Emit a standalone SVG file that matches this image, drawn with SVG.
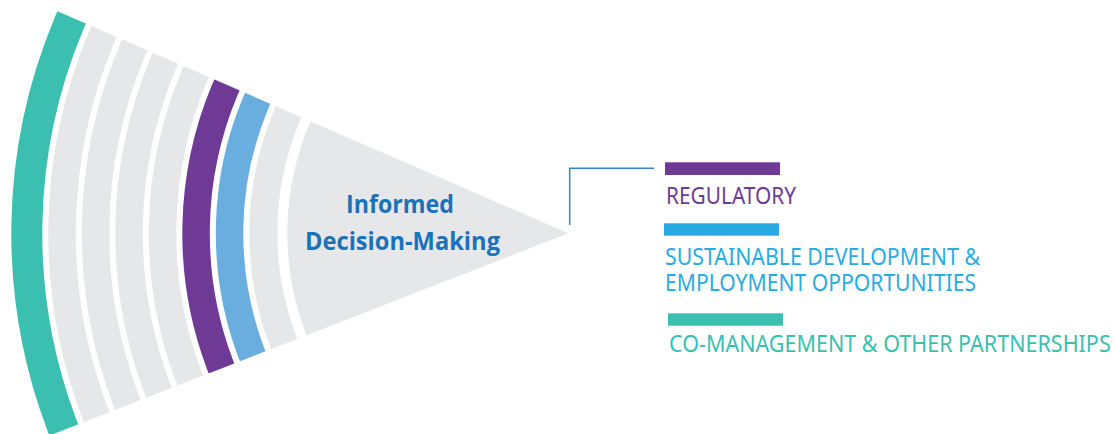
<svg xmlns="http://www.w3.org/2000/svg" width="1115" height="434" viewBox="0 0 1115 434">
  <defs>
    <clipPath id="wedge" clipPathUnits="userSpaceOnUse">
      <polygon points="568.3,233.3 -78.9,-33.4 -78.9,500"/>
    </clipPath>
    <style>
      .band { fill: none; }
      .gray { stroke: #E6E7E9; }
      .center-text { font-family: "Open Sans", "Noto Sans", "Liberation Sans", sans-serif; font-weight: bold; font-size: 25px; fill: #1B72B8; text-anchor: middle; }
      .legend-text { font-family: "Noto Sans", "Open Sans", "Liberation Sans", sans-serif; font-size: 24px; }
      .connector { fill: none; stroke: #3B82C4; stroke-width: 1.5; }
    </style>
  </defs>
  <rect width="1115" height="434" fill="#FFFFFF"/>

  <g id="fan" transform="rotate(1.1 568.3 233.3)" clip-path="url(#wedge)">
    <g id="band-teal"><circle class="band" cx="568.3" cy="233.3" r="541.5" stroke="#3ABFB1" stroke-width="31"/></g>
    <g id="band-gray1"><circle class="band gray" cx="568.3" cy="233.3" r="506.25" stroke-width="27.5"/></g>
    <g id="band-gray2"><circle class="band gray" cx="568.3" cy="233.3" r="472.75" stroke-width="27.5"/></g>
    <g id="band-gray3"><circle class="band gray" cx="568.3" cy="233.3" r="439.25" stroke-width="27.5"/></g>
    <g id="band-gray4"><circle class="band gray" cx="568.3" cy="233.3" r="405.75" stroke-width="27.5"/></g>
    <g id="band-purple"><circle class="band" cx="568.3" cy="233.3" r="372.25" stroke="#6F3A96" stroke-width="27.5"/></g>
    <g id="band-blue"><circle class="band" cx="568.3" cy="233.3" r="338.75" stroke="#6AADDF" stroke-width="27.5"/></g>
    <g id="band-gray5"><circle class="band gray" cx="568.3" cy="233.3" r="305" stroke-width="28"/></g>
    <g id="inner-sector"><circle cx="568.3" cy="233.3" r="281" fill="#E6E7E9"/></g>
  </g>

  <g id="center-label">
    <text class="center-text" x="400" y="213.3" textLength="108" lengthAdjust="spacingAndGlyphs">Informed</text>
    <text class="center-text" x="402.5" y="249.5" textLength="195" lengthAdjust="spacingAndGlyphs">Decision-Making</text>
  </g>

  <g id="connectors">
    <polyline class="connector" points="569.7,225 569.7,168.3 654,168.3"/>
  </g>

  <g id="legend-regulatory">
    <rect x="665" y="162.3" width="115" height="12.7" fill="#6F3A96"/>
    <text class="legend-text" x="666" y="204" fill="#6F3A96" textLength="130" lengthAdjust="spacingAndGlyphs">REGULATORY</text>
  </g>

  <g id="legend-sustainable">
    <rect x="664" y="223.3" width="115" height="12.4" fill="#29ABE2"/>
    <text class="legend-text" x="665" y="265" fill="#29ABE2" textLength="315" lengthAdjust="spacingAndGlyphs">SUSTAINABLE DEVELOPMENT &amp;</text>
    <text class="legend-text" x="665" y="291" fill="#29ABE2" textLength="311" lengthAdjust="spacingAndGlyphs">EMPLOYMENT OPPORTUNITIES</text>
  </g>

  <g id="legend-comanagement">
    <rect x="668" y="313.3" width="115" height="12.4" fill="#3ABFB1"/>
    <text class="legend-text" x="669" y="351.7" fill="#3ABFB1" textLength="441.7" lengthAdjust="spacingAndGlyphs">CO-MANAGEMENT &amp; OTHER PARTNERSHIPS</text>
  </g>
</svg>
